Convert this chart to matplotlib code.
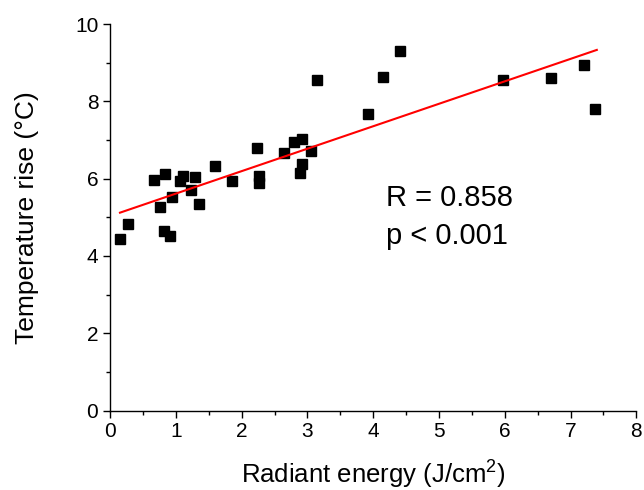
import matplotlib
matplotlib.use("Agg")
import matplotlib.pyplot as plt
from matplotlib.ticker import MultipleLocator

plt.rcParams['font.family'] = ['Liberation Sans', 'DejaVu Sans']
plt.rcParams['mathtext.fontset'] = 'custom'
plt.rcParams['mathtext.rm'] = 'Liberation Sans'

energy = [0.15, 0.27, 0.67, 0.76, 0.83, 0.82, 0.91, 0.94, 1.06, 1.11, 1.23, 1.29, 1.35,
          1.59, 1.85, 2.23, 2.26, 2.27, 2.64, 2.79, 2.88, 2.92, 2.92, 3.06, 3.15,
          3.92, 4.15, 4.41, 5.97, 6.70, 7.20, 7.38]
temp_rise = [4.43, 4.82, 5.96, 5.26, 6.11, 4.64, 4.51, 5.52, 5.93, 6.06, 5.70, 6.03, 5.34,
             6.32, 5.93, 6.79, 5.88, 6.06, 6.66, 6.94, 6.14, 7.02, 6.37, 6.71, 8.54,
             7.67, 8.64, 9.29, 8.54, 8.60, 8.93, 7.79]
fit_x = [0.15, 7.40]
fit_y = [5.12, 9.33]

fig = plt.figure(figsize=(6.44, 4.90), dpi=100)
ax = fig.add_axes([0.171, 0.162, 0.817, 0.789])

ax.plot(energy, temp_rise, linestyle='none', marker='s', ms=7.5, color='black')
ax.plot(fit_x, fit_y, color='red', lw=1.5)

ax.set_xlim(0, 8)
ax.set_ylim(0, 10)
ax.xaxis.set_major_locator(MultipleLocator(1))
ax.xaxis.set_minor_locator(MultipleLocator(0.5))
ax.yaxis.set_major_locator(MultipleLocator(2))
ax.yaxis.set_minor_locator(MultipleLocator(1))
for s in ['top', 'right']:
    ax.spines[s].set_visible(False)
for s in ['left', 'bottom']:
    ax.spines[s].set_linewidth(1.0)
ax.tick_params(which='major', direction='out', length=5, width=1, labelsize=15)
ax.tick_params(which='minor', direction='out', length=3, width=1)

ax.set_xlabel('Radiant energy (J/cm$^{\\mathrm{2}}$)', fontsize=18.5, labelpad=11)
ax.set_ylabel('Temperature rise (°C)', fontsize=19, labelpad=26)

ax.text(4.2, 5.29, 'R = 0.858', fontsize=21, ha='left', va='baseline')
ax.text(4.2, 4.31, 'p < 0.001', fontsize=21, ha='left', va='baseline')

fig.savefig('out.png', dpi=100)
